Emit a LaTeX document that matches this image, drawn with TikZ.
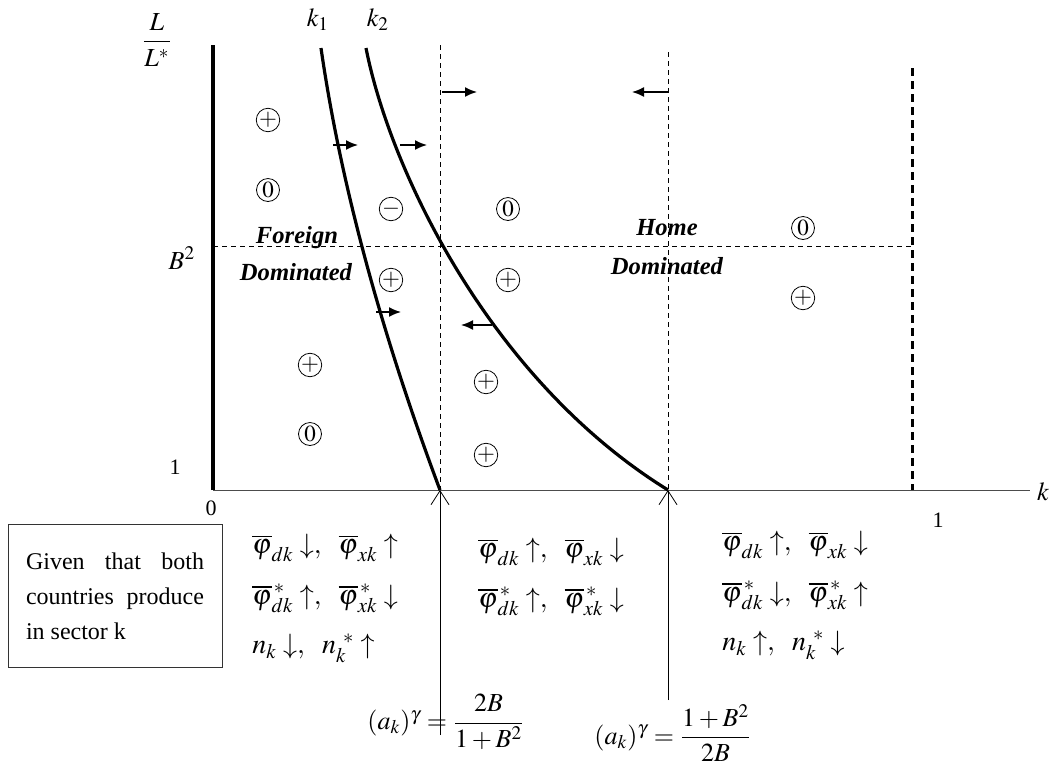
\documentclass[tikz,border=0pt]{standalone}
\usepackage{amsmath}
\usepackage{mathptmx}
\usepackage{fontspec}
\setmainfont{Liberation Serif}
\usetikzlibrary{arrows.meta}

\begin{document}
\begin{tikzpicture}[x=0.5pt,y=-0.5pt,font=\fontsize{11}{13}\selectfont]
    % Define styles
    \tikzstyle{signcirc} = [draw, circle, inner sep=0pt, minimum size=11.5pt, font=\fontsize{11.5}{11.5}\selectfont]
    \tikzstyle{move} = [-{Latex[length=6pt,width=5pt]}, thick]
    \tikzstyle{dominance} = [inner sep=1pt, font=\bfseries\itshape\fontsize{12.3}{14}\selectfont]
    \tikzstyle{effectrow} = [anchor=west, inner sep=0pt, font=\fontsize{14}{16}\selectfont]
    \tikzstyle{kcurve} = [line width=1.6pt]
    \useasboundingbox (0,0) rectangle (1056,767);

    % Axes
    \coordinate (O) at (213,490);
    \coordinate (ytop) at (213,45);
    \coordinate (xend) at (1030,490);
    \coordinate (a1) at (440,490);
    \coordinate (a2) at (668,490);
    \draw[line width=1.6pt] (O) -- (ytop);
    \draw[black!70] (O) -- (xend);
    \node (klab) at (1043,492) {\fontsize{13}{15}\selectfont$k$};
    \node (zero) at (211,508) {0};
    \node (xone) at (938,520) {1};
    \node (yone) at (175,467) {1};
    \node (bsq) at (182,258) {\fontsize{13}{15}\selectfont$B^{2}$};
    \node (ylab) at (157,40) {\fontsize{13}{15}\selectfont$\dfrac{\;L\;}{L^{*}}$};

    % Dashed guides
    \draw[dashed, dash pattern=on 2.5pt off 2pt] (213,246) -- (912,246);
    \draw[dashed, dash pattern=on 2.5pt off 2pt] (440,45) -- (a1);
    \draw[dashed, dash pattern=on 2.5pt off 2pt] (668,52) -- (a2);
    \draw[line width=1.5pt, dash pattern=on 4pt off 2.5pt] (912,68) -- (912,490);

    % The two curves
    \draw[kcurve] (321,48) .. controls (340,180) and (380,330) .. (a1);
    \draw[kcurve] (366,48) .. controls (390,170) and (490,380) .. (a2);
    \node (k1) at (318,20) {\fontsize{13}{15}\selectfont$k_{1}$};
    \node (k2) at (378,20) {\fontsize{13}{15}\selectfont$k_{2}$};

    % Shifts
    \draw[move] (333,145) -- (358,145);
    \draw[move] (400,145) -- (427,145);
    \draw[move] (442,92) -- (477,92);
    \draw[move] (668,92) -- (632,92);
    \draw[move] (376,312) -- (401,312);
    \draw[move] (492,325) -- (461,325);

    % Signs
    \foreach \x/\y/\s [count=\i] in {268/120/+, 268/190/0, 391/209/-, 508/209/0, 803/228/0,
        391/280/+, 508/280/+, 803/298/+, 310/365/+, 310/434/0, 486/382/+, 486/455/+} {
        \node[signcirc] (s\i) at (\x,\y) {$\s$};
      }

    \node[dominance] (fo) at (297,238) {Foreign};
    \node[dominance] (fd) at (296,272) {Dominated};
    \node[dominance] (ho) at (667,228) {Home};
    \node[dominance] (hd) at (667,266) {Dominated};

    % Effects below the axis
    \node[effectrow] (l1) at (252,548) {$\overline{\varphi}_{dk}\downarrow,\ \ \overline{\varphi}_{xk}\uparrow$};
    \node[effectrow] (l2) at (252,598) {$\overline{\varphi}^{\,*}_{dk}\uparrow,\ \ \overline{\varphi}^{\,*}_{xk}\downarrow$};
    \node[effectrow] (l3) at (252,648) {$n_{k}\downarrow,\ \ n_{k}^{\ *}\uparrow$};
    \node[effectrow] (m1) at (478,552) {$\overline{\varphi}_{dk}\uparrow,\ \ \overline{\varphi}_{xk}\downarrow$};
    \node[effectrow] (m2) at (478,601) {$\overline{\varphi}^{\,*}_{dk}\uparrow,\ \ \overline{\varphi}^{\,*}_{xk}\downarrow$};
    \node[effectrow] (r1) at (722,545) {$\overline{\varphi}_{dk}\uparrow,\ \ \overline{\varphi}_{xk}\downarrow$};
    \node[effectrow] (r2) at (722,595) {$\overline{\varphi}^{\,*}_{dk}\downarrow,\ \ \overline{\varphi}^{\,*}_{xk}\uparrow$};
    \node[effectrow] (r3) at (722,645) {$n_{k}\uparrow,\ \ n_{k}^{\ *}\downarrow$};

    \node[draw=black!80, text width=89pt, inner xsep=9pt, minimum height=71.5pt, align=justify,
      font=\fontsize{12}{17.5}\selectfont] (given) at (115,596)
      {Given that both countries produce in sector k};

    % Thresholds
    \coordinate (f1) at (440,735);
    \coordinate (f2) at (668,700);
    \draw[-{Straight Barb[length=7pt,width=9pt]}] (f1) -- (a1);
    \draw[-{Straight Barb[length=7pt,width=9pt]}] (f2) -- (a2);
    \node (eq1) at (446,722) {\fontsize{13}{15}\selectfont$(a_{k})^{\gamma}=\dfrac{2B}{1+B^{2}}$};
    \node (eq2) at (673,733) {\fontsize{13}{15}\selectfont$(a_{k})^{\gamma}=\dfrac{1+B^{2}}{2B}$};
  \end{tikzpicture}
\end{document}
